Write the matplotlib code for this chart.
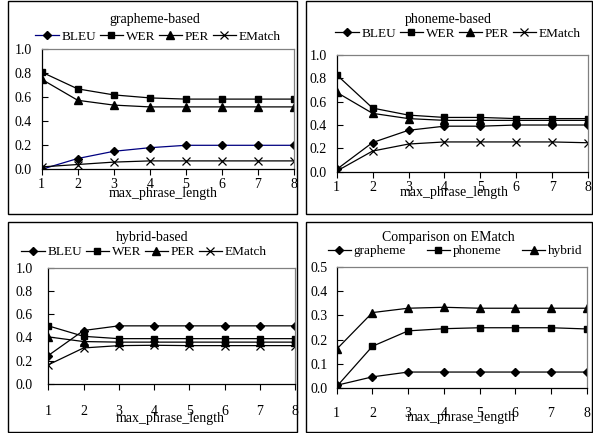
import matplotlib
matplotlib.use("Agg")
import matplotlib.pyplot as plt
from matplotlib.patches import Rectangle

plt.rcParams['font.family'] = ['Liberation Serif', 'DejaVu Serif']

x = [1, 2, 3, 4, 5, 6, 7, 8]

# grapheme-based
g_bleu = [0.00, 0.09, 0.15, 0.18, 0.20, 0.20, 0.20, 0.20]
g_wer = [0.81, 0.67, 0.62, 0.595, 0.585, 0.585, 0.585, 0.585]
g_per = [0.75, 0.575, 0.535, 0.52, 0.52, 0.52, 0.52, 0.52]
g_ematch = [0.02, 0.04, 0.06, 0.07, 0.07, 0.07, 0.07, 0.07]

# phoneme-based
p_bleu = [0.02, 0.25, 0.355, 0.39, 0.39, 0.40, 0.40, 0.40]
p_wer = [0.83, 0.545, 0.485, 0.465, 0.465, 0.455, 0.455, 0.455]
p_per = [0.68, 0.50, 0.455, 0.44, 0.44, 0.44, 0.44, 0.44]
p_ematch = [0.005, 0.177, 0.237, 0.255, 0.255, 0.255, 0.255, 0.248]

# hybrid-based
h_bleu = [0.245, 0.46, 0.50, 0.50, 0.50, 0.50, 0.50, 0.50]
h_wer = [0.50, 0.41, 0.39, 0.39, 0.39, 0.39, 0.39, 0.39]
h_per = [0.405, 0.365, 0.36, 0.36, 0.36, 0.36, 0.36, 0.36]
h_ematch = [0.165, 0.31, 0.33, 0.333, 0.33, 0.33, 0.33, 0.33]

# comparison on EMatch
c_grapheme = [0.01, 0.045, 0.065, 0.065, 0.065, 0.065, 0.065, 0.065]
c_phoneme = [0.005, 0.172, 0.236, 0.245, 0.249, 0.249, 0.249, 0.244]
c_hybrid = [0.16, 0.312, 0.33, 0.334, 0.33, 0.33, 0.33, 0.33]

metric_labels = ['BLEU', 'WER', 'PER', 'EMatch']
comp_labels = ['grapheme', 'phoneme', 'hybrid']

W, H = 593, 433
fig = plt.figure(figsize=(W / 100, H / 100), dpi=100)
fig.patch.set_facecolor('white')

FS = 10
LFS = 9.5


def frac_box(l, t, r, b):
    return [l / W, 1 - b / H, (r - l) / W, (b - t) / H]


def border(l, t, r, b):
    fig.patches.append(Rectangle((l / W, 1 - b / H), (r - l) / W, (b - t) / H,
                                 transform=fig.transFigure, fill=False,
                                 edgecolor='black', linewidth=1.0))


def make_ax(box, ymax, ystep, title, title_xy, xlab_xy, xpad, ypad):
    l, t, r, b = box
    ax = fig.add_axes(frac_box(l, t, r, b))
    ax.set_xlim(1, 8)
    ax.set_ylim(0, ymax)
    ax.set_xticks(x)
    n = int(round(ymax / ystep))
    ax.set_yticks([i * ystep for i in range(n + 1)])
    ax.yaxis.set_major_formatter(matplotlib.ticker.FormatStrFormatter('%.1f'))
    ax.tick_params(axis='y', direction='in', length=4, width=0.8, pad=ypad, labelsize=FS)
    ax.tick_params(axis='x', direction='out', length=4, width=0.8, pad=xpad, labelsize=FS)
    for s in ['left', 'bottom']:
        ax.spines[s].set_color('black')
        ax.spines[s].set_linewidth(0.9)
    for s in ['top', 'right']:
        ax.spines[s].set_color('#808080')
        ax.spines[s].set_linewidth(0.9)
    ax.set_xlabel('max_phrase_length', fontsize=FS)
    ax.xaxis.set_label_coords((xlab_xy[0] - l) / (r - l), -(xlab_xy[1] - b) / (b - t))
    ax.xaxis.label.set_va('center')
    fig.text(title_xy[0] / W, 1 - title_xy[1] / H, title, ha='center', va='center', fontsize=FS)
    return ax


def add_legend(ax, leg_xy, ncol, colsp):
    ax.legend(loc='center', bbox_to_anchor=(leg_xy[0] / W, 1 - leg_xy[1] / H),
              bbox_transform=fig.transFigure, ncol=ncol, frameon=False,
              fontsize=LFS, handlelength=1.75, handletextpad=0.2,
              columnspacing=colsp, borderpad=0, borderaxespad=0)


lw = 0.9
mk = dict(D=dict(marker='D', markersize=4.2), s=dict(marker='s', markersize=5),
          t=dict(marker='^', markersize=5.5), x=dict(marker='x', markersize=5.5, markeredgewidth=0.9))

# borders
border(7.5, 1, 297, 214)
border(306, 1, 592, 214)
border(7.5, 222, 297, 432)
border(306, 222, 592, 432)

# top-left
ax1 = make_ax((41.7, 49.3, 294, 169.3), 1.0, 0.2, 'grapheme-based', (155, 20),
              (163, 193), 2.5, 7)
ax1.plot(x, g_bleu, color='#000080', lw=lw, mfc='black', mec='black', label=metric_labels[0], **mk['D'])
ax1.plot(x, g_wer, color='black', lw=lw, label=metric_labels[1], **mk['s'])
ax1.plot(x, g_per, color='black', lw=lw, label=metric_labels[2], **mk['t'])
ax1.plot(x, g_ematch, color='black', lw=lw, label=metric_labels[3], **mk['x'])
add_legend(ax1, (158, 37), 4, 0.3)

# top-right
ax2 = make_ax((336.7, 55, 588, 171.7), 1.0, 0.2, 'phoneme-based', (448, 19.5),
              (454, 193), 2.5, 7)
ax2.plot(x, p_bleu, color='black', lw=lw, label=metric_labels[0], **mk['D'])
ax2.plot(x, p_wer, color='black', lw=lw, label=metric_labels[1], **mk['s'])
ax2.plot(x, p_per, color='black', lw=lw, label=metric_labels[2], **mk['t'])
ax2.plot(x, p_ematch, color='black', lw=lw, label=metric_labels[3], **mk['x'])
add_legend(ax2, (458, 34), 4, 0.3)

# bottom-left
ax3 = make_ax((48.3, 267.7, 295, 384), 1.0, 0.2, 'hybrid-based', (152, 237),
              (170, 418), 11, 11)
ax3.plot(x, h_bleu, color='black', lw=lw, label=metric_labels[0], **mk['D'])
ax3.plot(x, h_wer, color='black', lw=lw, label=metric_labels[1], **mk['s'])
ax3.plot(x, h_per, color='black', lw=lw, label=metric_labels[2], **mk['t'])
ax3.plot(x, h_ematch, color='black', lw=lw, label=metric_labels[3], **mk['x'])
add_legend(ax3, (144, 252), 4, 0.3)

# bottom-right
ax4 = make_ax((336.7, 267.3, 586.7, 387.7), 0.5, 0.1, 'Comparison on EMatch', (448, 237),
              (461, 417), 10, 6.5)
ax4.plot(x, c_grapheme, color='black', lw=lw, label=comp_labels[0], **mk['D'])
ax4.plot(x, c_phoneme, color='black', lw=lw, label=comp_labels[1], **mk['s'])
ax4.plot(x, c_hybrid, color='black', lw=lw, label=comp_labels[2], **mk['t'])
add_legend(ax4, (455, 251), 3, 1.6)

fig.savefig('out.png', dpi=100, facecolor='white')
